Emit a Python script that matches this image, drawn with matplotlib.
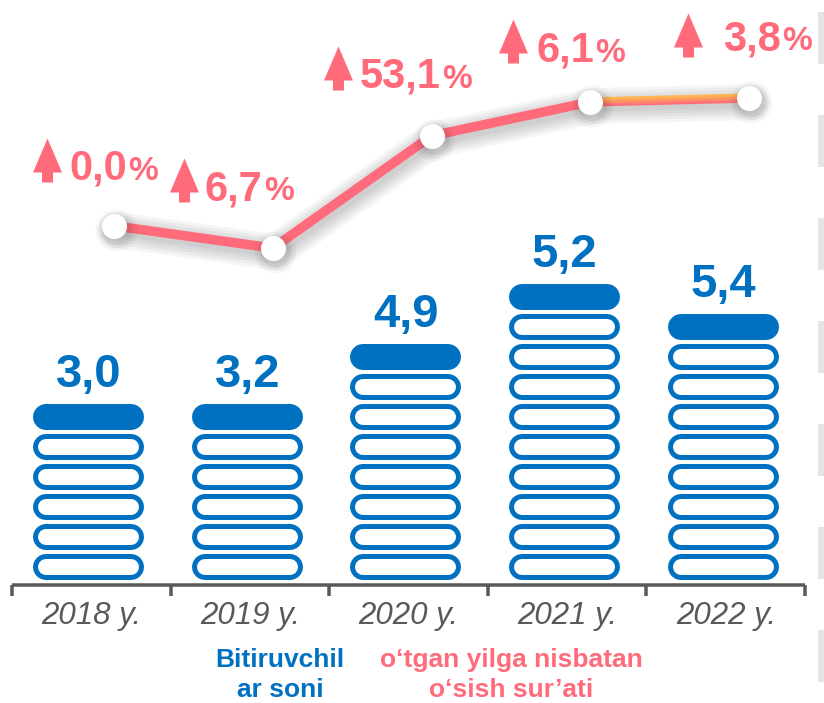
import numpy as np
import matplotlib
matplotlib.use("Agg")
import matplotlib.pyplot as plt
from matplotlib.path import Path
from matplotlib import transforms
from matplotlib.patches import Rectangle

# --- data ---
years = ["2018 y.", "2019 y.", "2020 y.", "2021 y.", "2022 y."]
graduates = [3.0, 3.2, 4.9, 5.2, 5.4]          # bar labels
ring_count = [5, 5, 7, 9, 8]                    # outlined rings under the filled cap
growth = ["0,0", "6,7", "53,1", "6,1", "3,8"]   # growth vs previous year, %
trend_level = [11.97, 11.23, 14.97, 16.10, 16.23]  # line height, in ring units

# --- style ---
BLUE = "#0070C0"
PINK = "#FF6B7B"
ORANGE = "#FFB550"
GRAY = "#595959"
plt.rcParams["font.family"] = ["Liberation Sans", "DejaVu Sans"]

W, H = 824, 703
CAT = 158.6        # px per category
UNIT = 30.0        # px per ring
PT = 72 / 100      # points per pixel

fig = plt.figure(figsize=(W / 100, H / 100), dpi=100)
ax = fig.add_axes([0, 0, 1, 1])
ax.set_xlim(-0.5 - 12 / CAT, 4.5 + 19 / CAT)
ax.set_ylim(-118 / UNIT, 585 / UNIT)
ax.axis("off")

x = np.arange(len(years))

# --- stacked ring bars ---
half = 85 / 2 / CAT
for i in range(len(x)):
    cx = x[i] - 0.016
    for k in range(ring_count[i]):
        yk = 0.6 + k
        ax.plot([cx - half, cx + half], [yk, yk], color=BLUE, lw=26 * PT,
                solid_capstyle="round")
        ax.plot([cx - half, cx + half], [yk, yk], color="white", lw=16 * PT,
                solid_capstyle="round")
    ytop = 0.6 + ring_count[i]
    ax.plot([cx - half, cx + half], [ytop, ytop], color=BLUE, lw=26 * PT,
            solid_capstyle="round")
    ax.text(cx, ytop + 0.43 + 17 / UNIT, f"{graduates[i]:.1f}".replace(".", ","),
            ha="center", va="baseline", fontsize=34, fontweight="bold", color=BLUE)

# --- axis line with ticks ---
ax.plot([-0.5, 4.5], [0, 0], color=GRAY, lw=3.5 * PT, solid_capstyle="butt")
ax.vlines(np.arange(-0.5, 5.0, 1.0), -11 / UNIT, 0, color=GRAY, lw=3.5 * PT)
for i in range(len(x)):
    ax.text(x[i], -39 / UNIT, years[i], ha="center", va="baseline",
            fontsize=22.5, style="italic", color=GRAY)

# --- growth line ---
xl = x + 23 / CAT
yl = np.array(trend_level)
shadow = transforms.offset_copy(ax.transData, fig=fig, x=2, y=-4, units="dots")
for w in [12, 18, 24, 30, 36]:
    ax.plot(xl, yl, color="black", alpha=0.04, lw=w * PT, transform=shadow,
            solid_capstyle="round", solid_joinstyle="round")
ax.plot(xl[:4], yl[:4], color=PINK, lw=9.5 * PT, solid_joinstyle="round")
c0 = np.array(matplotlib.colors.to_rgb(PINK))
c1 = np.array(matplotlib.colors.to_rgb(ORANGE))
for j, dy in enumerate(np.linspace(-3.5, 3.5, 6)):
    f = j / 5
    tr = transforms.offset_copy(ax.transData, fig=fig, x=0, y=dy, units="dots")
    ax.plot(xl[3:], yl[3:], color=c0 * (1 - f) + c1 * f, lw=2.2 * PT, transform=tr)

for s, a in [(42, 0.035), (36, 0.045), (30, 0.06)]:
    ax.plot(xl, yl, "o", ms=s * PT, color="black", alpha=a, mec="none",
            transform=shadow)
ax.plot(xl, yl, "o", ms=25 * PT, color="white", mec="none")

# arrow marker
arrow = Path([(0, 22), (14.5, -12), (5.5, -12), (5.5, -22), (-5.5, -22),
              (-5.5, -12), (-14.5, -12), (0, 22)],
             [Path.MOVETO] + [Path.LINETO] * 6 + [Path.CLOSEPOLY])

label_dx = [-45, -68, -72, -54, -26]
label_dy = [46, 48, 48, 40, 48]
arrow_dx = [-67, -89, -94, -77, -61]
arrow_dy = [66, 68, 68, 61, 63]
for i in range(len(x)):
    tr = transforms.offset_copy(ax.transData, fig=fig, x=arrow_dx[i],
                                y=arrow_dy[i], units="dots")
    ax.plot(xl[i], yl[i], marker=arrow, ms=44 * PT, color=PINK, mec="none",
            transform=tr)
    t = ax.annotate(growth[i], xy=(xl[i], yl[i]),
                    xytext=(label_dx[i] * PT, label_dy[i] * PT),
                    textcoords="offset points", ha="left", va="baseline",
                    fontsize=30, fontweight="bold", color=PINK)
    ax.annotate("%", xy=(1, 0), xycoords=t, xytext=(1, 6 * 0.21),
                textcoords="offset points", ha="left", va="bottom",
                fontsize=24, fontweight="bold", color=PINK)

# --- legend texts ---
fig.text(280 / W, 1 - 667 / H, "Bitiruvchil", ha="center", va="baseline",
         fontsize=19, fontweight="bold", color=BLUE)
fig.text(280 / W, 1 - 697 / H, "ar soni", ha="center", va="baseline",
         fontsize=19, fontweight="bold", color=BLUE)
fig.text(511 / W, 1 - 667 / H, "o\u2018tgan yilga nisbatan", ha="center",
         va="baseline", fontsize=19, fontweight="bold", color=PINK)
fig.text(511 / W, 1 - 697 / H, "o\u2018sish sur\u2019ati", ha="center",
         va="baseline", fontsize=19, fontweight="bold", color=PINK)

# faint card shadows on the right edge
for k in range(7):
    top = 12 + 103 * k
    fig.patches.append(Rectangle((818 / W, 1 - (top + 52) / H), 6 / W, 52 / H,
                                 transform=fig.transFigure, color="#e4e4e4",
                                 lw=0))

fig.savefig("out.png", dpi=100)
